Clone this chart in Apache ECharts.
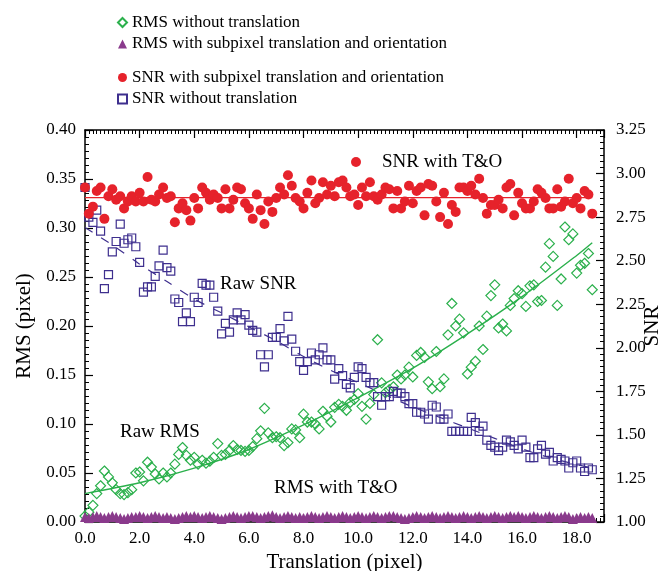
<!DOCTYPE html>
<html>
<head>
<meta charset="utf-8">
<script src="https://cdn.jsdelivr.net/npm/echarts@6/dist/echarts.min.js"></script>
<style>
  html, body { margin: 0; padding: 0; background: #ffffff; }
  #chart { width: 660px; height: 571px; }
</style>
</head>
<body>
<div id="chart"></div>
<script>
// translation steps (pixel), shared by all series
const translation = [
  0, 0.14, 0.29, 0.43, 0.57, 0.71, 0.86,
  1, 1.14, 1.29, 1.43, 1.57, 1.71, 1.86,
  2, 2.14, 2.29, 2.43, 2.57, 2.71, 2.86,
  3, 3.14, 3.29, 3.43, 3.57, 3.71, 3.86,
  4, 4.14, 4.29, 4.43, 4.57, 4.71, 4.86,
  5, 5.14, 5.29, 5.43, 5.57, 5.71, 5.86,
  6, 6.14, 6.29, 6.43, 6.57, 6.71, 6.86,
  7, 7.14, 7.29, 7.43, 7.57, 7.71, 7.86,
  8, 8.14, 8.29, 8.43, 8.57, 8.71, 8.86,
  9, 9.14, 9.29, 9.43, 9.57, 9.71, 9.86,
  10, 10.14, 10.29, 10.43, 10.57, 10.71, 10.86,
  11, 11.14, 11.29, 11.43, 11.57, 11.71, 11.86,
  12, 12.14, 12.29, 12.43, 12.57, 12.71, 12.86,
  13, 13.14, 13.29, 13.43, 13.57, 13.71, 13.86,
  14, 14.14, 14.29, 14.43, 14.57, 14.71, 14.86,
  15, 15.14, 15.29, 15.43, 15.57, 15.71, 15.86,
  16, 16.14, 16.29, 16.43, 16.57, 16.71, 16.86,
  17, 17.14, 17.29, 17.43, 17.57, 17.71, 17.86,
  18, 18.14, 18.29, 18.43, 18.57
]

// RMS without translation (left axis)
const rmsRaw = [
  0.006, 0.010, 0.017, 0.029, 0.037, 0.052, 0.046, 0.040, 0.033, 0.029,
  0.028, 0.030, 0.033, 0.050, 0.051, 0.042, 0.061, 0.056, 0.049, 0.044,
  0.050, 0.046, 0.050, 0.059, 0.069, 0.076, 0.068, 0.063, 0.066, 0.059,
  0.063, 0.060, 0.062, 0.066, 0.080, 0.068, 0.069, 0.073, 0.078, 0.074,
  0.073, 0.072, 0.073, 0.077, 0.085, 0.093, 0.116, 0.091, 0.086, 0.087,
  0.086, 0.078, 0.081, 0.095, 0.094, 0.086, 0.110, 0.102, 0.102, 0.100,
  0.095, 0.113, 0.108, 0.102, 0.117, 0.120, 0.118, 0.114, 0.122, 0.125,
  0.131, 0.118, 0.105, 0.121, 0.130, 0.186, 0.142, 0.132, 0.135, 0.138,
  0.150, 0.146, 0.150, 0.158, 0.148, 0.170, 0.173, 0.168, 0.143, 0.136,
  0.174, 0.138, 0.146, 0.191, 0.223, 0.200, 0.207, 0.193, 0.151, 0.158,
  0.164, 0.200, 0.176, 0.210, 0.231, 0.242, 0.198, 0.202, 0.195, 0.221,
  0.228, 0.236, 0.233, 0.220, 0.241, 0.242, 0.225, 0.226, 0.260, 0.284,
  0.271, 0.221, 0.248, 0.301, 0.288, 0.294, 0.254, 0.262, 0.264, 0.274,
  0.237
]

// RMS with subpixel translation and orientation (left axis)
const rmsTO = [
  0.005, 0.004, 0.005, 0.006, 0.005, 0.004, 0.005, 0.006, 0.005, 0.004,
  0.003, 0.004, 0.005, 0.005, 0.006, 0.005, 0.004, 0.005, 0.006, 0.005,
  0.004, 0.005, 0.004, 0.003, 0.004, 0.005, 0.006, 0.005, 0.006, 0.005,
  0.004, 0.005, 0.006, 0.005, 0.004, 0.003, 0.004, 0.005, 0.006, 0.005,
  0.004, 0.005, 0.006, 0.006, 0.005, 0.004, 0.005, 0.006, 0.007, 0.005,
  0.004, 0.005, 0.006, 0.005, 0.004, 0.005, 0.004, 0.005, 0.006, 0.005,
  0.004, 0.005, 0.006, 0.005, 0.004, 0.005, 0.006, 0.005, 0.004, 0.005,
  0.006, 0.005, 0.004, 0.005, 0.006, 0.005, 0.004, 0.005, 0.006, 0.006,
  0.005, 0.004, 0.003, 0.004, 0.005, 0.006, 0.005, 0.004, 0.005, 0.006,
  0.005, 0.004, 0.005, 0.006, 0.005, 0.004, 0.005, 0.006, 0.005, 0.004,
  0.005, 0.006, 0.005, 0.004, 0.005, 0.006, 0.005, 0.004, 0.005, 0.006,
  0.005, 0.006, 0.005, 0.004, 0.005, 0.006, 0.005, 0.004, 0.005, 0.006,
  0.005, 0.004, 0.005, 0.006, 0.005, 0.003, 0.004, 0.005, 0.004, 0.005,
  0.004
]

// SNR with subpixel translation and orientation (right axis)
const snrTO = [
  2.92, 2.77, 2.81, 2.90, 2.92, 2.74, 2.87, 2.91, 2.85, 2.87,
  2.80, 2.84, 2.87, 2.84, 2.89, 2.84, 2.98, 2.85, 2.84, 2.88,
  2.92, 2.86, 2.87, 2.72, 2.80, 2.83, 2.79, 2.73, 2.86, 2.80,
  2.92, 2.89, 2.85, 2.88, 2.86, 2.80, 2.91, 2.80, 2.85, 2.92,
  2.91, 2.83, 2.80, 2.74, 2.88, 2.79, 2.71, 2.84, 2.78, 2.86,
  2.92, 2.88, 2.99, 2.93, 2.86, 2.84, 2.80, 2.89, 2.96, 2.83,
  2.86, 2.95, 2.88, 2.93, 2.87, 2.95, 2.96, 2.92, 2.87, 2.88,
  2.82, 2.92, 2.87, 2.95, 2.87, 2.85, 2.88, 2.92, 2.91, 2.80,
  2.90, 2.80, 2.84, 2.93, 2.83, 2.90, 2.92, 2.76, 2.94, 2.93,
  2.84, 2.75, 2.89, 2.71, 2.82, 2.78, 2.92, 2.92, 2.90, 2.93,
  2.88, 2.97, 2.86, 2.77, 2.82, 2.82, 2.85, 2.80, 2.92, 2.94,
  2.76, 2.89, 2.83, 2.80, 2.80, 2.84, 2.91, 2.89, 2.86, 2.80,
  2.80, 2.91, 2.81, 2.84, 2.97, 2.83, 2.86, 2.80, 2.90, 2.88,
  2.77
]

// SNR without translation (right axis)
const snrRaw = [
  2.92, 2.75, 2.72, 2.79, 2.67, 2.34, 2.42, 2.55, 2.61, 2.71,
  2.60, 2.62, 2.63, 2.58, 2.49, 2.32, 2.35, 2.35, 2.41, 2.47,
  2.56, 2.46, 2.44, 2.28, 2.26, 2.15, 2.20, 2.15, 2.29, 2.26,
  2.37, 2.36, 2.36, 2.29, 2.21, 2.08, 2.14, 2.09, 2.16, 2.20,
  2.16, 2.19, 2.13, 2.10, 2.09, 1.96, 1.89, 1.96, 2.06, 2.06,
  2.11, 2.04, 2.18, 2.05, 1.98, 1.92, 1.87, 1.92, 1.97, 1.93,
  1.96, 2.00, 1.93, 1.93, 1.82, 1.88, 1.84, 1.79, 1.77, 1.83,
  1.89, 1.88, 1.83, 1.80, 1.80, 1.72, 1.67, 1.72, 1.72, 1.75,
  1.74, 1.74, 1.72, 1.68, 1.68, 1.63, 1.63, 1.62, 1.59, 1.67,
  1.66, 1.59, 1.59, 1.62, 1.52, 1.52, 1.52, 1.52, 1.52, 1.60,
  1.57, 1.52, 1.55, 1.47, 1.44, 1.43, 1.41, 1.43, 1.47, 1.46,
  1.44, 1.42, 1.47, 1.43, 1.37, 1.37, 1.42, 1.44, 1.39, 1.40,
  1.35, 1.37, 1.36, 1.35, 1.31, 1.34, 1.35, 1.31, 1.29, 1.31,
  1.30
]

// fitted curves
const rmsFitX = [0, 2, 4, 6, 8, 10, 12, 14, 16, 18, 18.57]
const rmsFitY = [0.029, 0.040, 0.055, 0.074, 0.099, 0.127, 0.157, 0.192, 0.230, 0.272, 0.285]
const snrFitX = [0, 1, 2, 3, 4, 5, 6, 7, 8, 9, 10, 11, 12, 13, 14, 15, 16, 17, 18, 18.57]
const snrFitY = [2.69, 2.59, 2.48, 2.38, 2.28, 2.20, 2.12, 2.04, 1.95, 1.87, 1.80, 1.73, 1.66, 1.60, 1.54, 1.48, 1.42, 1.37, 1.33, 1.31]
const snrTOFitX = [0, 18.57]
const snrTOFitY = [2.862, 2.862]

const xTicks = { min: 0, max: 19, interval: 2 }
const rmsTicks = { min: 0, max: 0.4, interval: 0.05 }
const snrTicks = { min: 1, max: 3.25, interval: 0.25 }

const GREEN = '#2bb04c'
const RED = '#e6222b'
const INDIGO = '#3e2f8e'
const MAGENTA = '#8a3a8c'
const FONT = '"Liberation Serif", "DejaVu Serif", serif'

const pairs = (xs, ys) => ys.map((y, i) => [xs[i], y])

const chart = echarts.init(document.getElementById('chart'))

const axisCommon = {
  axisLine: { show: true, onZero: false, lineStyle: { color: '#000', width: 1.5 } },
  axisTick: { show: true, inside: true, length: 8, lineStyle: { color: '#000', width: 1.2 } },
  minorTick: { show: true, length: 4, lineStyle: { color: '#000', width: 1 } },
  splitLine: { show: false },
  axisLabel: { color: '#000', fontFamily: FONT, fontSize: 17 }
}

const legendText = { fontFamily: FONT, fontSize: 17, lineHeight: 17, color: '#000' }

chart.setOption({
  animation: false,
  backgroundColor: '#fff',
  grid: { left: 85, right: 56, top: 130, bottom: 49, containLabel: false, outerBoundsMode: 'none' },
  legend: [
    {
      orient: 'vertical', left: 117, top: 14, padding: 0, itemWidth: 9, itemHeight: 9, itemGap: 4.5,
      selectedMode: false, textStyle: legendText,
      data: ['RMS without translation', 'RMS with subpixel translation and orientation']
    },
    {
      orient: 'vertical', left: 117, top: 69, padding: 0, itemWidth: 9, itemHeight: 9, itemGap: 4.5,
      selectedMode: false, textStyle: legendText,
      data: ['SNR with subpixel translation and orientation', 'SNR without translation']
    }
  ],
  xAxis: [
    Object.assign({}, axisCommon, {
      type: 'value', position: 'bottom', ...xTicks,
      minorTick: Object.assign({}, axisCommon.minorTick, { splitNumber: 14 }),
      axisLabel: Object.assign({}, axisCommon.axisLabel, { margin: 8, formatter: v => v.toFixed(1) }),
      name: 'Translation (pixel)', nameLocation: 'middle', nameGap: 27,
      nameTextStyle: { fontFamily: FONT, fontSize: 21, color: '#000' }
    }),
    Object.assign({}, axisCommon, {
      type: 'value', position: 'top', ...xTicks,
      minorTick: Object.assign({}, axisCommon.minorTick, { splitNumber: 14 }),
      axisLabel: { show: false }
    })
  ],
  yAxis: [
    Object.assign({}, axisCommon, {
      type: 'value', position: 'left', ...rmsTicks,
      minorTick: Object.assign({}, axisCommon.minorTick, { splitNumber: 7 }),
      axisLabel: Object.assign({}, axisCommon.axisLabel, { margin: 9, formatter: v => v.toFixed(2) }),
      name: 'RMS (pixel)', nameLocation: 'middle', nameGap: 48,
      nameTextStyle: { fontFamily: FONT, fontSize: 21, color: '#000' }
    }),
    Object.assign({}, axisCommon, {
      type: 'value', position: 'right', ...snrTicks,
      minorTick: Object.assign({}, axisCommon.minorTick, { splitNumber: 7 }),
      axisLabel: Object.assign({}, axisCommon.axisLabel, { margin: 12, formatter: v => v.toFixed(2) }),
      name: 'SNR', nameLocation: 'middle', nameGap: 38, nameRotate: 90, nameMoveOverlap: false,
      nameTextStyle: { fontFamily: FONT, fontSize: 21, color: '#000' }
    })
  ],
  series: [
    {
      name: 'rms fit', type: 'line', yAxisIndex: 0, smooth: 0.3, showSymbol: false, silent: true,
      lineStyle: { color: GREEN, width: 1.4 }, z: 2,
      data: pairs(rmsFitX, rmsFitY)
    },
    {
      name: 'snr fit', type: 'line', yAxisIndex: 1, smooth: 0.3, showSymbol: false, silent: true,
      lineStyle: { color: INDIGO, width: 1.2, type: [9, 10] }, z: 2,
      data: pairs(snrFitX, snrFitY)
    },
    {
      name: 'snr t&o fit', type: 'line', yAxisIndex: 1, showSymbol: false, silent: true,
      lineStyle: { color: RED, width: 1.2 }, z: 2,
      data: pairs(snrTOFitX, snrTOFitY)
    },
    {
      name: 'RMS without translation', type: 'scatter', yAxisIndex: 0,
      symbol: 'diamond', symbolSize: 10, z: 3,
      itemStyle: { color: 'rgba(255,255,255,0)', borderColor: GREEN, borderWidth: 1.2, opacity: 1 },
      data: pairs(translation, rmsRaw)
    },
    {
      name: 'SNR without translation', type: 'scatter', yAxisIndex: 1,
      symbol: 'rect', symbolSize: 8, z: 3,
      itemStyle: { color: 'rgba(255,255,255,0)', borderColor: INDIGO, borderWidth: 1.2, opacity: 1 },
      data: pairs(translation, snrRaw)
    },
    {
      name: 'SNR with subpixel translation and orientation', type: 'scatter', yAxisIndex: 1,
      symbol: 'circle', symbolSize: 10, z: 4,
      itemStyle: { color: RED, opacity: 1 },
      data: pairs(translation, snrTO)
    },
    {
      name: 'RMS with subpixel translation and orientation', type: 'scatter', yAxisIndex: 0,
      symbol: 'triangle', symbolSize: 10, z: 4,
      itemStyle: { color: MAGENTA, opacity: 1 },
      data: pairs(translation, rmsTO)
    }
  ],
  graphic: [
    { type: 'circle', shape: { cx: 356, cy: 162, r: 5 }, style: { fill: RED }, z: 10 },
    { type: 'text', x: 382, y: 162, z: 10, style: { text: 'SNR with T&O', font: '19px ' + FONT, fill: '#000', verticalAlign: 'middle' } },
    { type: 'text', x: 220, y: 284, z: 10, style: { text: 'Raw SNR', font: '19px ' + FONT, fill: '#000', verticalAlign: 'middle' } },
    { type: 'text', x: 120, y: 432, z: 10, style: { text: 'Raw RMS', font: '19px ' + FONT, fill: '#000', verticalAlign: 'middle' } },
    { type: 'text', x: 274, y: 488, z: 10, style: { text: 'RMS with T&O', font: '19px ' + FONT, fill: '#000', verticalAlign: 'middle' } }
  ]
})

window.addEventListener('resize', () => chart.resize())
</script>
</body>
</html>
